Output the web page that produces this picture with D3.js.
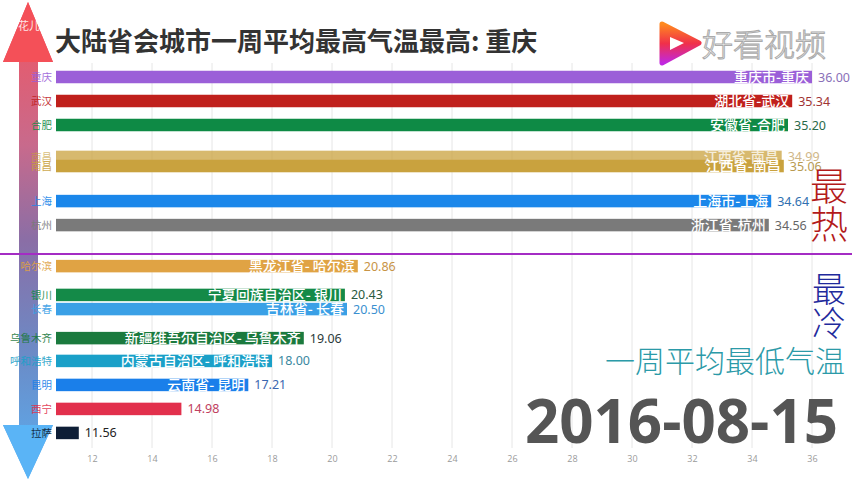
<!DOCTYPE html>
<html><head><meta charset="utf-8">
<script src="https://cdn.jsdelivr.net/npm/d3@7"></script>
<style>
body{margin:0;background:#fff;}
svg{display:block;}
text{font-family:"Noto Sans CJK SC","Noto Sans",sans-serif;}
</style></head>
<body><svg id="c" width="852" height="480"></svg>
<script>
// ---- data ----
const cities = ["重庆","武汉","合肥","南昌","南昌","上海","杭州","哈尔滨","银川","长春","乌鲁木齐","呼和浩特","昆明","西宁","拉萨"];
const fullNames = ["重庆市-重庆","湖北省-武汉","安徽省-合肥","江西省-南昌","江西省-南昌","上海市-上海","浙江省-杭州","黑龙江省- 哈尔滨","宁夏回族自治区- 银川","吉林省- 长春","新疆维吾尔自治区- 乌鲁木齐","内蒙古自治区- 呼和浩特","云南省- 昆明","",""];
const values = [36.00,35.34,35.20,34.99,35.06,34.64,34.56,20.86,20.43,20.50,19.06,18.00,17.21,14.98,11.56];
// interpolated race rank of each bar in this frame
const ranks = [0,1,2,3.33,3.71,5.17,6.17,7.88,9.08,9.67,10.88,11.83,12.83,13.83,14.83];
const barColors = ["#9b5fd8","#c0201c","#0e8a45","#c9a23e","#c9a23e","#1b87ea","#7a7a7a","#e0a344","#148a48","#3aa0e6","#1b7a3e","#1aa0c8","#1a7fea","#e2304c","#0e1e36"];
const valueColors = ["#8a70b8","#a03434","#2a6a4a","#c0a060","#b89a50","#3070b0","#666666","#c89446","#2a5a40","#3a90d0","#2a3a3a","#3a88a0","#3a66b0","#c04060","#222222"];
const opacities = [1,1,1,0.75,1,1,1,1,1,1,1,1,1,1,1];
const tickValues = [12,14,16,18,20,22,24,26,28,30,32,34,36];
const title = "大陆省会城市一周平均最高气温最高: 重庆";
const dateLabel = "2016-08-15";

// ---- scales ----
const svg = d3.select("#c");
const x = d3.scaleLinear().domain([10.8, 36.5]).range([56, 827]);
const y = d3.scaleLinear().domain([0, 1]).range([77, 101]);
const barH = 12.5;

// defs
const defs = svg.append("defs");
const g1 = defs.append("linearGradient").attr("id","shaft").attr("x1",0).attr("y1",0).attr("x2",0).attr("y2",1);
g1.append("stop").attr("offset","0%").attr("stop-color","#f4545e");
g1.append("stop").attr("offset","30%").attr("stop-color","#c86a8c");
g1.append("stop").attr("offset","50%").attr("stop-color","#8a6ea6");
g1.append("stop").attr("offset","75%").attr("stop-color","#6a8cc8");
g1.append("stop").attr("offset","100%").attr("stop-color","#5ab0f2");
const g2 = defs.append("linearGradient").attr("id","logo").attr("x1",0).attr("y1",0).attr("x2",0).attr("y2",1);
g2.append("stop").attr("offset","0%").attr("stop-color","#ff8a1e");
g2.append("stop").attr("offset","50%").attr("stop-color","#f0304a");
g2.append("stop").attr("offset","100%").attr("stop-color","#c028e0");

// grid
const grid = svg.append("g");
grid.selectAll("line").data(tickValues).join("line")
  .attr("x1",d=>x(d)).attr("x2",d=>x(d)).attr("y1",63).attr("y2",448)
  .attr("stroke","#e6e6e6").attr("stroke-width",1);
const axis = d3.axisBottom(x).tickValues(tickValues).tickSize(0).tickPadding(0);
const ax = svg.append("g").attr("transform","translate(0,456)").call(axis);
ax.select(".domain").remove();
ax.selectAll("text").attr("fill","#9a9a9a").style("font-size","9px").style("font-family","'Open Sans',sans-serif");

// title
svg.append("text").attr("x",55).attr("y",51).text(title)
  .attr("fill","#333").style("font-size","26px").style("font-weight","bold");

// left arrow
const arrow = d3.path();
arrow.moveTo(28,2); arrow.lineTo(53,62); arrow.lineTo(38,62); arrow.lineTo(38,425); arrow.lineTo(53,425);
arrow.lineTo(28,479); arrow.lineTo(3,425); arrow.lineTo(19,425); arrow.lineTo(19,62); arrow.lineTo(3,62); arrow.closePath();
svg.append("path").attr("d",arrow.toString()).attr("fill","url(#shaft)");
svg.append("path").attr("d","M28,2L53,62L3,62Z").attr("fill","#f45058");
svg.append("path").attr("d","M3,425L53,425L28,479Z").attr("fill","#5ab4f6");
svg.append("text").attr("x",18).attr("y",30).text("花儿不哭").attr("fill","#fff").attr("opacity",0.85).style("font-size","11px");

// separator
svg.append("line").attr("x1",0).attr("x2",852).attr("y1",254).attr("y2",254).attr("stroke","#a42cc4").attr("stroke-width",2);

// bars
const idx = d3.range(values.length);
const bars = svg.append("g");
bars.selectAll("rect").data(idx).join("rect")
  .attr("x",x.range()[0]).attr("y",i=>y(ranks[i])-barH/2)
  .attr("width",i=>x(values[i])-x.range()[0]).attr("height",barH)
  .attr("fill",i=>barColors[i]).attr("opacity",i=>opacities[i]);
bars.selectAll("text.in").data(idx).join("text").attr("class","in")
  .attr("x",i=>x(values[i])-3).attr("y",i=>y(ranks[i])).attr("dy","0.36em")
  .attr("text-anchor","end").attr("fill","#fff").attr("opacity",i=>opacities[i])
  .style("font-size","14px").style("font-weight","500").text(i=>fullNames[i]);
bars.selectAll("text.val").data(idx).join("text").attr("class","val")
  .attr("x",i=>x(values[i])+6).attr("y",i=>y(ranks[i])).attr("dy","0.36em")
  .attr("fill",i=>valueColors[i]).attr("opacity",i=>opacities[i])
  .style("font-size","12.5px").style("font-family","'Noto Sans',sans-serif")
  .text(i=>values[i].toFixed(2));
bars.selectAll("text.cat").data(idx).join("text").attr("class","cat")
  .attr("x",52).attr("y",i=>y(ranks[i])).attr("dy","0.36em").attr("text-anchor","end")
  .attr("fill",i=>barColors[i]).attr("opacity",i=>opacities[i]*0.9)
  .style("font-size","10.5px").text(i=>cities[i]);

// right side annotations
const hot = svg.append("text").attr("fill","#b31a1a").style("font-size","38px").style("font-weight","300");
hot.append("tspan").attr("x",829).attr("y",200).attr("text-anchor","middle").text("最");
hot.append("tspan").attr("x",829).attr("y",238).attr("text-anchor","middle").text("热");
const cold = svg.append("text").attr("fill","#1f2a9c").style("font-size","34px").style("font-weight","300");
cold.append("tspan").attr("x",829).attr("y",302).attr("text-anchor","middle").text("最");
cold.append("tspan").attr("x",829).attr("y",336).attr("text-anchor","middle").text("冷");
svg.append("text").attr("x",845).attr("y",372).attr("text-anchor","end").text("一周平均最低气温")
  .attr("fill","#2b9aa8").style("font-size","30px").style("font-weight","300");

// date
svg.append("text").attr("x",838).attr("y",443).attr("text-anchor","end").text(dateLabel)
  .attr("fill","#555").style("font-size","60px").style("font-weight","bold").style("font-family","'Open Sans',sans-serif");

// logo watermark
svg.append("path").attr("d","M662,24L699,43L662,63Z").attr("fill","url(#logo)").attr("stroke","url(#logo)").attr("stroke-width",5).attr("stroke-linejoin","round");
svg.append("path").attr("d","M670,37L684,43L670,50Z").attr("fill","#fff");
svg.append("text").attr("x",702).attr("y",56).text("好看视频").attr("fill","#fff").attr("stroke","#aaa").attr("stroke-width",1)
  .style("font-size","31px").style("font-weight","300");
</script></body></html>
